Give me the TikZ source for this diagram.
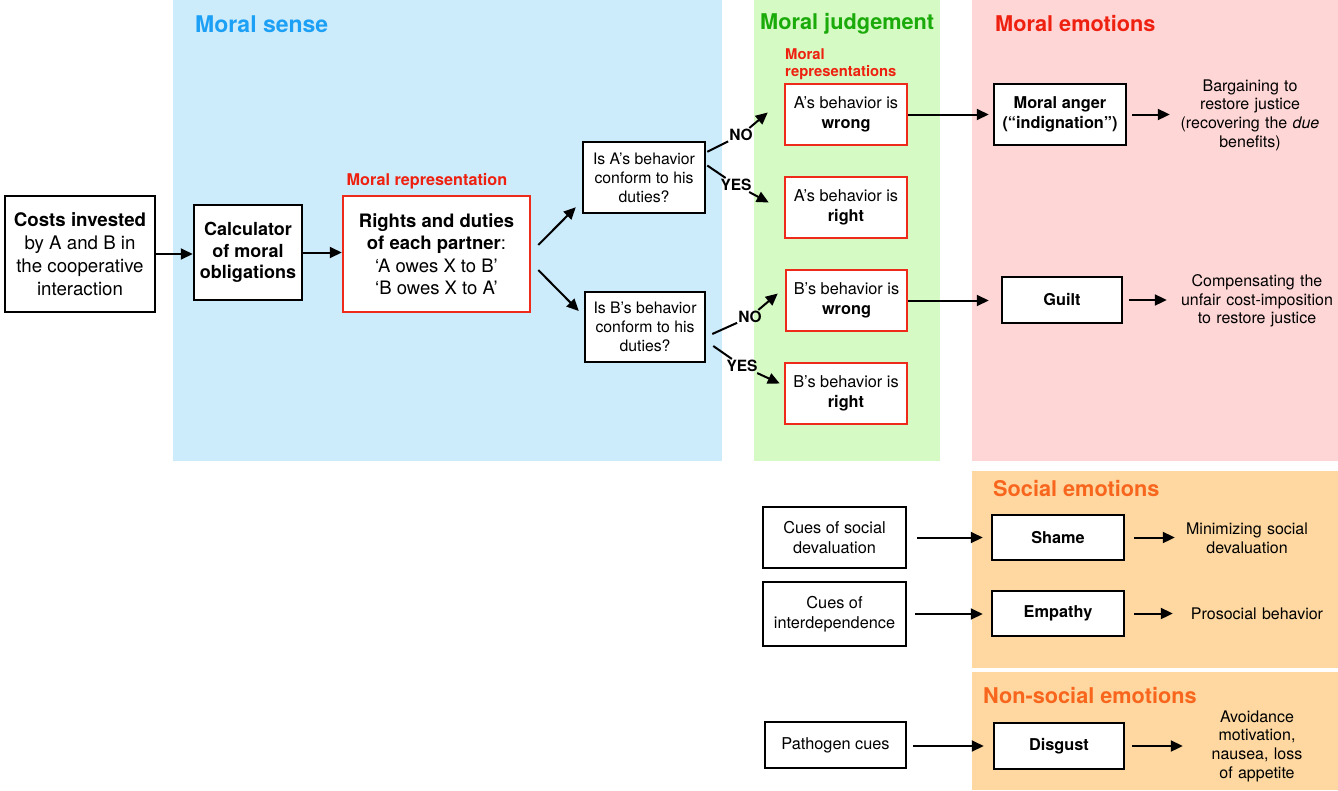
\documentclass[tikz,border=0pt]{standalone}
\usepackage{fontspec}
\setmainfont{TeX Gyre Heros}
\usetikzlibrary{arrows.meta}
\newcommand\fsz[2]{\fontsize{#1}{#2}\selectfont}
\definecolor{bgblue}{HTML}{CCEBFB}
\definecolor{bggreen}{HTML}{D5FAC3}
\definecolor{bgpink}{HTML}{FFD6D6}
\definecolor{bgorange}{HTML}{FED8A0}
\definecolor{tblue}{HTML}{1CA0F5}
\definecolor{tgreen}{HTML}{1AAA0A}
\definecolor{tred}{HTML}{EE2010}
\definecolor{torange}{HTML}{F8661E}
\definecolor{boxred}{HTML}{EE2A1A}
\tikzset{
  blk/.style={draw=black, line width=2.5pt, fill=white, align=center, inner sep=2pt, font=\fsz{16.3}{20}},
  redbox/.style={blk, draw=boxred},
  bbox/.style={blk, font=\bfseries\fsz{16.3}{20}},
  arr/.style={line width=2pt, -{Triangle[length=12pt,width=11pt]}},
  ttl/.style={anchor=west, inner sep=0pt, font=\bfseries\fsz{21.7}{26}},
  lbl/.style={font=\bfseries\fsz{15.5}{18}, inner sep=1pt},
  outtxt/.style={align=center, font=\fsz{16}{18.7}, inner sep=0pt},
}
\begin{document}
\begin{tikzpicture}[x=1pt,y=-1pt]
\useasboundingbox (0,0) rectangle (1338,790);
\fill[white] (0,0) rectangle (1338,790);
% backgrounds
\fill[bgblue] (173,0) rectangle (722,461);
\fill[bggreen] (754,0) rectangle (940,461);
\fill[bgpink] (972,0) rectangle (1338,461);
\fill[bgorange] (972,471) rectangle (1338,668);
\fill[bgorange] (972,672) rectangle (1338,790);
% titles
\node[ttl, text=tblue, font=\bfseries\fsz{23}{26}] (t1) at (195,24) {Moral sense};
\node[ttl, text=tgreen] (t2) at (760,24) {Moral judgement};
\node[ttl, text=tred] (t3) at (995,24) {Moral emotions};
\node[ttl, text=torange] (t4) at (993,489) {Social emotions};
\node[ttl, text=torange] (t5) at (983,696) {Non-social emotions};
% red labels
\node[text=tred, font=\bfseries\fsz{16.2}{18}, inner sep=0pt] (mr1) at (427,181) {Moral representation};
\node[text=tred, font=\bfseries\fsz{14.8}{17}, inner sep=0pt, align=left, anchor=west] (mr2) at (785,64.5) {Moral\\representations};
% main boxes
\node[blk, minimum width=150, minimum height=116, font=\fsz{18.7}{23}] (costs) at (80,254)
  {\textbf{Costs invested}\\by A and B in\\the cooperative\\interaction};
\node[blk, minimum width=108, minimum height=95, font=\bfseries\fsz{18}{21.5}] (calc) at (248,252.5)
  {Calculator\\of moral\\obligations};
\node[redbox, minimum width=187, minimum height=116, font=\fsz{18.5}{22.5}] (rights) at (436.5,254)
  {\textbf{Rights and duties}\\\textbf{of each partner}:\\‘A owes X to B’\\‘B owes X to A’};
\node[blk, minimum width=122, minimum height=71, font=\fsz{15.8}{19}] (isa) at (644,177.5)
  {Is A’s behavior\\conform to his\\duties?};
\node[blk, minimum width=120, minimum height=70, font=\fsz{15.8}{19}] (isb) at (645,327)
  {Is B’s behavior\\conform to his\\duties?};
\node[redbox, minimum width=122, minimum height=61] (awrong) at (846,114.5) {A’s behavior is\\\textbf{wrong}};
\node[redbox, minimum width=122, minimum height=61] (aright) at (846,207.5) {A’s behavior is\\\textbf{right}};
\node[redbox, minimum width=121, minimum height=61] (bwrong) at (846.5,300.5) {B’s behavior is\\\textbf{wrong}};
\node[redbox, minimum width=122, minimum height=61] (bright) at (846,393.5) {B’s behavior is\\\textbf{right}};
\node[bbox, minimum width=132, minimum height=61] (anger) at (1060,114.5) {Moral anger\\(“indignation”)};
\node[bbox, minimum width=120, minimum height=46] (guilt) at (1062,300) {Guilt};
\node[blk, minimum width=143, minimum height=61] (cues1) at (834.5,537.5) {Cues of social\\devaluation};
\node[blk, minimum width=143, minimum height=64] (cues2) at (834.5,614) {Cues of\\interdependence};
\node[blk, minimum width=141, minimum height=46] (patho) at (835.5,745) {Pathogen cues};
\node[bbox, minimum width=132, minimum height=45] (shame) at (1058,537.5) {Shame};
\node[bbox, minimum width=132, minimum height=45] (empathy) at (1058,613.5) {Empathy};
\node[bbox, minimum width=130, minimum height=46] (disgust) at (1059,746) {Disgust};
% outcome texts
\node[outtxt, text width=150] (barg) at (1250,115) {Bargaining to\\restore justice\\(recovering the \textit{due}\\benefits)};
\node[outtxt, text width=160] (comp) at (1257,301) {Compensating the\\unfair cost-imposition\\to restore justice};
\node[outtxt, text width=130] (minim) at (1247,538) {Minimizing social\\devaluation};
\node[outtxt, text width=136] (pros) at (1257,614) {Prosocial behavior};
\node[outtxt, text width=100] (avoid) at (1257,746) {Avoidance\\motivation,\\nausea, loss\\of appetite};
% YES / NO labels
\node[lbl] (no1) at (741,135) {NO};
\node[lbl] (yes1) at (736,185) {YES};
\node[lbl] (no2) at (750,317) {NO};
\node[lbl] (yes2) at (742,366) {YES};
% connectors
\draw[arr] (costs.east) -- (costs.east -| calc.west);
\draw[arr] (calc.east) -- (calc.east -| rights.west);
\draw[arr] ([shift={(7,-9)}]rights.east) -- ([shift={(-6,-7)}]isa.south west);
\draw[arr] ([shift={(7,16)}]rights.east) -- ([shift={(-5,-16)}]isb.west);
\draw[line width=2pt] ([shift={(1,11)}]isa.north east) -- (no1);
\draw[arr] (no1) -- ([shift={(-16,-2)}]awrong.west);
\draw[line width=2pt] ([shift={(1,-12)}]isa.east) -- (yes1);
\draw[arr] (yes1) -- ([shift={(-15,-5)}]aright.west);
\draw[line width=2pt] ([shift={(6,7)}]isb.east) -- (no2);
\draw[arr] (no2) -- ([shift={(-7,-7)}]bwrong.west);
\draw[line width=2pt] ([shift={(7,19)}]isb.east) -- (yes2);
\draw[arr] (yes2) -- ([shift={(-4,-10)}]bright.west);
\draw[arr, shorten >=4pt] (awrong.east) -- (awrong.east -| anger.west);
\draw[arr, shorten <=5pt, shorten >=5pt] (anger.east) -- (anger.east -| barg.west);
\draw[arr, shorten >=12pt] (bwrong.east) -- (bwrong.east -| guilt.west);
\draw[arr, shorten <=6pt, shorten >=10pt] (guilt.east) -- (guilt.east -| comp.west);
\draw[arr, shorten <=10pt, shorten >=8pt] (cues1.east) -- (cues1.east -| shame.west);
\draw[arr, shorten <=8pt, shorten >=8pt] (cues2.east) -- (cues2.east -| empathy.west);
\draw[arr, shorten <=6pt, shorten >=9pt] (patho.east |- disgust.west) -- (disgust.west);
\draw[arr, shorten <=9pt, shorten >=7pt] (shame.east) -- (shame.east -| minim.west);
\draw[arr, shorten <=9pt, shorten >=16pt] (empathy.east) -- (empathy.east -| pros.west);
\draw[arr, shorten <=7pt, shorten >=24pt] (disgust.east) -- (disgust.east -| avoid.west);
\end{tikzpicture}
\end{document}
